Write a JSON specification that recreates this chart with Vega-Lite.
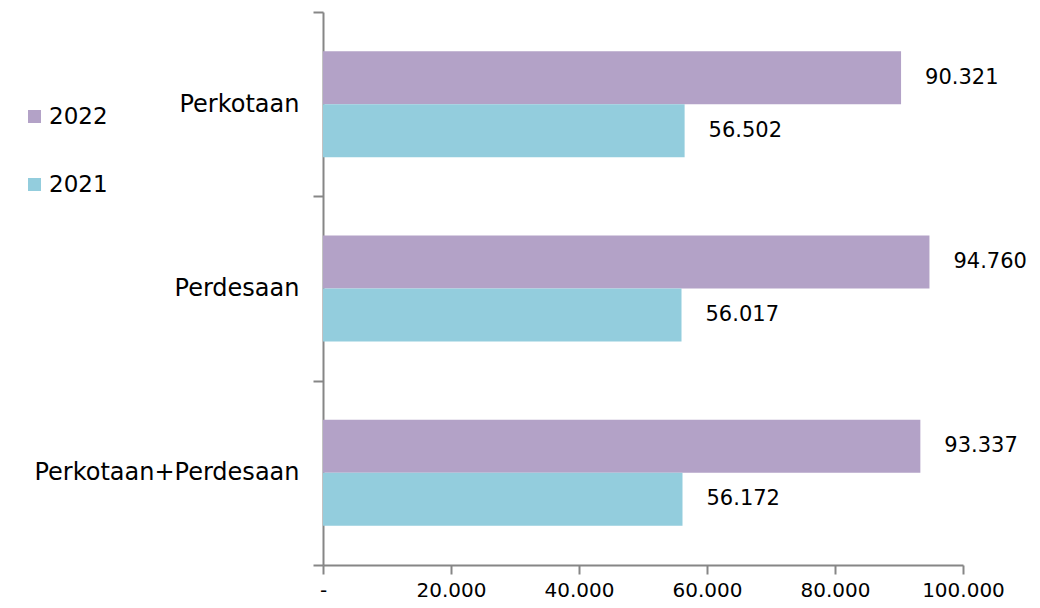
{
  "$schema": "https://vega.github.io/schema/vega-lite/v6.json",
  "width": 640,
  "height": 553,
  "autosize": "none",
  "padding": {"left": 323, "top": 12, "right": 77, "bottom": 43},
  "background": "white",
  "config": {"view": {"stroke": null}, "font": "DejaVu Sans",
    "locale": {"number": {"decimal": ",", "thousands": ".", "grouping": [3], "currency": ["Rp", ""]}}},
  "data": {"values": [
    {"wilayah": "Perkotaan", "tahun": "2022", "nilai": 90321},
    {"wilayah": "Perkotaan", "tahun": "2021", "nilai": 56502},
    {"wilayah": "Perdesaan", "tahun": "2022", "nilai": 94760},
    {"wilayah": "Perdesaan", "tahun": "2021", "nilai": 56017},
    {"wilayah": "Perkotaan+Perdesaan", "tahun": "2022", "nilai": 93337},
    {"wilayah": "Perkotaan+Perdesaan", "tahun": "2021", "nilai": 56172}
  ]},
  "encoding": {
    "y": {"field": "wilayah", "type": "nominal",
      "sort": ["Perkotaan", "Perdesaan", "Perkotaan+Perdesaan"],
      "scale": {"paddingInner": 0, "paddingOuter": 0},
      "axis": {"title": null, "tickBand": "extent", "domainColor": "#868686", "domainWidth": 2,
        "tickColor": "#868686", "tickWidth": 2, "tickSize": 10, "labelPadding": 14, "labelLimit": 400,
        "labelFontSize": 24, "labelColor": "#000000"}},
    "yOffset": {"field": "tahun", "type": "nominal", "sort": ["2022", "2021"], "scale": {"paddingInner": 0, "paddingOuter": 0.739}},
    "x": {"field": "nilai", "type": "quantitative",
      "scale": {"domain": [0, 100000], "nice": false},
      "axis": {"title": null, "values": [0, 20000, 40000, 60000, 80000, 100000], "grid": false,
        "labelExpr": "datum.value == 0 ? '-' : format(datum.value, ',')",
        "domainColor": "#868686", "domainWidth": 2, "tickColor": "#868686", "tickWidth": 2, "tickSize": 9,
        "labelFontSize": 20, "labelColor": "#000000", "labelPadding": 6, "labelFlush": false}}
  },
  "layer": [
    {"mark": {"type": "bar"},
     "encoding": {"color": {"field": "tahun", "type": "nominal",
       "scale": {"domain": ["2022", "2021"], "range": ["#B3A2C7", "#93CDDD"]},
       "legend": {"title": null, "orient": "none", "legendX": -300, "legendY": 93, "symbolType": "square",
         "symbolSize": 170, "symbolStrokeWidth": 0, "labelFontSize": 23, "labelColor": "#000000",
         "rowPadding": 44, "labelOffset": 3}}}},
    {"mark": {"type": "text", "align": "left", "baseline": "middle", "dx": 24, "fontSize": 21, "color": "#000000"},
     "encoding": {"text": {"field": "nilai", "type": "quantitative", "format": ",.0f"}}}
  ]
}
